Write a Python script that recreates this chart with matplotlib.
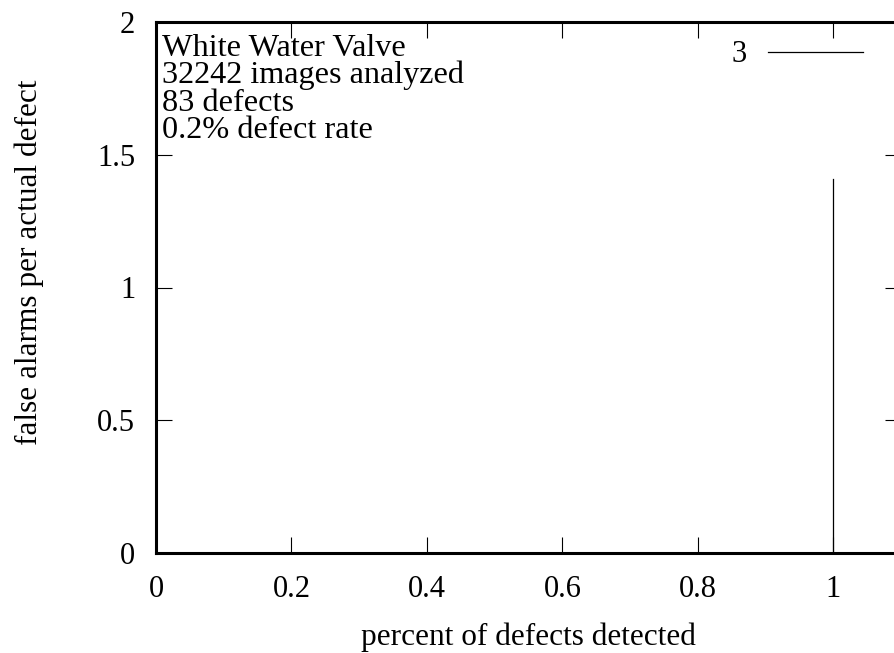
import matplotlib
matplotlib.use('Agg')
import matplotlib.pyplot as plt

# data
det_x = [1.0, 1.0]
fa_y = [0.0, 1.41]
series_name = '3'
info_lines = ['White Water Valve', '32242 images analyzed', '83 defects', '0.2% defect rate']
xticks = [0, 0.2, 0.4, 0.6, 0.8, 1]
yticks = [0, 0.5, 1, 1.5, 2]

plt.rcParams['font.family'] = ['Liberation Serif', 'DejaVu Serif']

W, H = 894, 653
fig = plt.figure(figsize=(W/100, H/100), dpi=100)
ax = fig.add_axes([156/W, 100/H, 745/W, 531/H])

ax.plot(det_x, fa_y, color='black', lw=0.9, label=series_name)

ax.set_xlim(0, 1.1)
ax.set_ylim(0, 2)
ax.set_xticks(xticks)
ax.set_xticklabels(['0', '0.2', '0.4', '0.6', '0.8', '1'])
ax.set_yticks(yticks)
ax.set_yticklabels(['0', '0.5', '1', '1.5', '2'])
ax.tick_params(direction='in', length=11.5, width=0.8, top=True, right=True,
               labelsize=22, colors='black')
ax.tick_params(axis='x', pad=16)
ax.tick_params(axis='y', pad=15)
for s in ax.spines.values():
    s.set_linewidth(2.2)

fig.text(528/W, 1 - 637/H, 'percent of defects detected', fontsize=22.5, ha='center', va='center')
fig.text(29/W, 1 - 262/H, 'false alarms per actual defect', fontsize=22.5, ha='center', va='center',
         rotation=90)

# info text block
for i, line in enumerate(info_lines):
    fig.text(162/W, 1 - (56 + i*27.5)/H, line, fontsize=23.2, ha='left', va='baseline')

ax.legend(loc='center right', bbox_to_anchor=(863/W, 1 - 55/H), bbox_transform=fig.transFigure,
          frameon=False, markerfirst=False, handlelength=3.1, handletextpad=0.7,
          fontsize=22, borderpad=0, borderaxespad=0)

fig.savefig('out.png', dpi=100)
